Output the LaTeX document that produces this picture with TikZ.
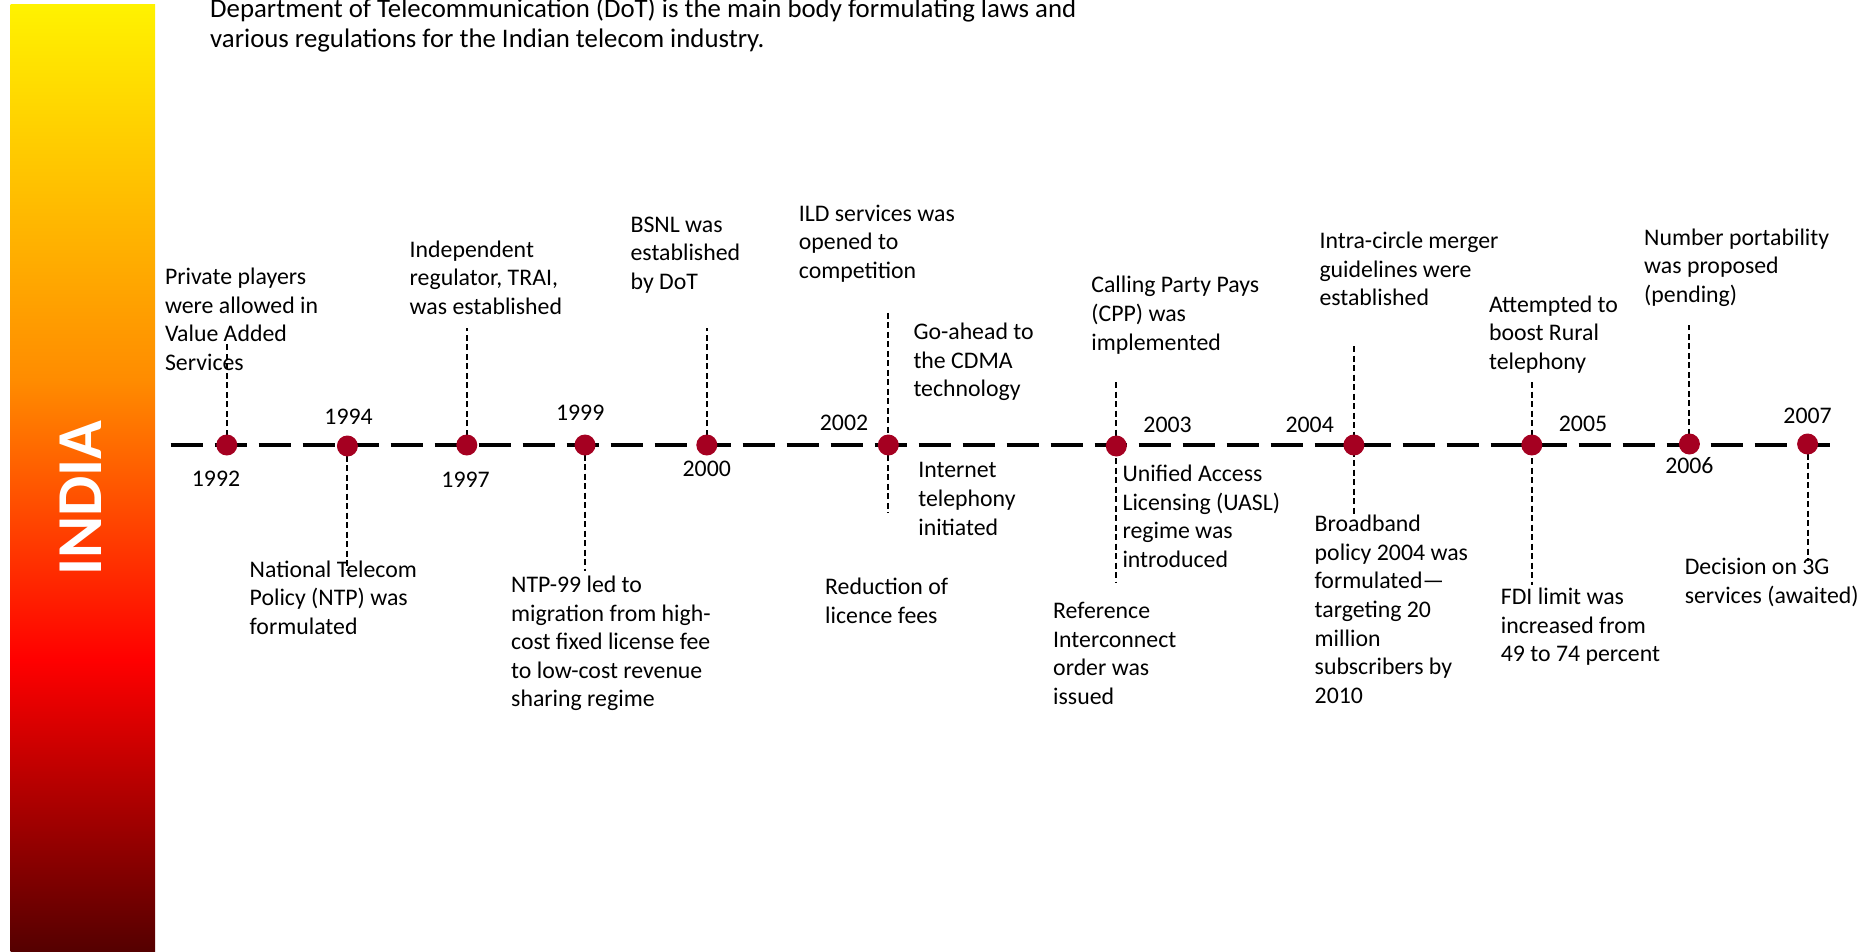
\documentclass[tikz,border=0pt]{standalone}
\usepackage{fontspec}
\setmainfont{Carlito}
\definecolor{barY}{HTML}{FFF200}
\definecolor{barO}{HTML}{FF8C00}
\definecolor{barR}{HTML}{FF0000}
\definecolor{barD}{HTML}{550000}
\definecolor{dotred}{HTML}{A50021}
% vertical colour ramp of the side band (path maps to 25bp..75bp)
\pgfdeclareverticalshading{indiabar}{100bp}{color(0bp)=(barD); color(25bp)=(barD); color(40.4bp)=(barR); color(55.2bp)=(barO); color(75bp)=(barY); color(100bp)=(barY)}
\begin{document}
\begin{tikzpicture}[x=1pt,y=1pt,
  evt/.style={anchor=north west,inner sep=0pt,align=left,
    font=\fontsize{23.8}{28.6}\selectfont,execute at begin node=\strut},
  yr/.style={inner sep=0pt,font=\fontsize{23.8}{28.6}\selectfont},
  dot/.style={circle,fill=dotred,inner sep=0pt,minimum size=21pt},
  lead/.style={line width=2pt,dash pattern=on 6pt off 3.5pt},
  axisline/.style={line width=4.6pt,dash pattern=on 32pt off 12pt}]
\useasboundingbox (0,0) rectangle (1872,-951);

% side band
\shade[shading=indiabar] (10.7,-4.8) rectangle (155.2,-951);
\node[rotate=90,text=white,inner sep=0pt,font=\fontsize{64}{72}\selectfont\bfseries] (india) at (81,-498) {INDIA};

% heading
\node[evt,font=\fontsize{26.8}{30}\selectfont] (head) at (210,2.5) {Department of Telecommunication (DoT) is the main body formulating laws and\\various regulations for the Indian telecom industry.};

% timeline positions
\coordinate (axL) at (170.7,-445);
\coordinate (axR) at (1830.3,-445);
\coordinate (p1992) at (226.8,-445);
\coordinate (p1994) at (347.4,-446);
\coordinate (p1997) at (466.8,-445);
\coordinate (p1999) at (585.0,-445);
\coordinate (p2000) at (706.8,-445);
\coordinate (p2002) at (888.3,-445);
\coordinate (p2003) at (1116.3,-446);
\coordinate (p2004) at (1353.9,-445);
\coordinate (p2005) at (1531.8,-445);
\coordinate (p2006) at (1689.4,-444);
\coordinate (p2007) at (1807.6,-444);

% ends of the leader lines
\coordinate (u1992) at (226.8,-342.6);
\coordinate (d1994) at (347.4,-570.7);
\coordinate (u1997) at (466.8,-328.3);
\coordinate (d1999) at (585.0,-570.7);
\coordinate (u2000) at (706.8,-328.3);
\coordinate (u2002) at (888.3,-312.8);
\coordinate (d2002) at (888.3,-513.4);
\coordinate (u2003) at (1116.3,-382);
\coordinate (d2003) at (1116.3,-582.6);
\coordinate (u2004) at (1353.9,-346);
\coordinate (d2004) at (1353.9,-515.8);
\coordinate (u2005) at (1531.8,-382);
\coordinate (d2005) at (1531.8,-585);
\coordinate (u2006) at (1689.4,-324.7);
\coordinate (d2007) at (1807.6,-561);

% axis
\draw[axisline] (axL) -- (axR);

% leaders
\draw[lead] (p1992) -- (u1992);
\draw[lead] (p1994) -- (d1994);
\draw[lead] (p1997) -- (u1997);
\draw[lead] (p1999) -- (d1999);
\draw[lead] (p2000) -- (u2000);
\draw[lead] (u2002) -- (d2002);
\draw[lead] (u2003) -- (d2003);
\draw[lead] (u2004) -- (d2004);
\draw[lead] (u2005) -- (d2005);
\draw[lead] (p2006) -- (u2006);
\draw[lead] (p2007) -- (d2007);

% milestones
\foreach \y in {1992,1994,1997,1999,2000,2002,2003,2004,2005,2006,2007}
  \node[dot] (m\y) at (p\y) {};

% year labels
\node[yr] (y1992) at (216,-478.8) {1992};
\node[yr] (y1994) at (348.6,-416.7) {1994};
\node[yr] (y1997) at (465.6,-480) {1997};
\node[yr] (y1999) at (580.2,-413) {1999};
\node[yr] (y2000) at (706.8,-469.2) {2000};
\node[yr] (y2002) at (844,-422.6) {2002};
\node[yr] (y2003) at (1167.6,-425) {2003};
\node[yr] (y2004) at (1309.7,-425) {2004};
\node[yr] (y2005) at (1583,-423.8) {2005};
\node[yr] (y2006) at (1689.4,-465.6) {2006};
\node[yr] (y2007) at (1807.6,-415.5) {2007};

% events above the axis
\node[evt] (priv) at (164.8,-267.8) {Private players\\were allowed in\\Value Added\\Services};
\node[evt] (indep) at (409.5,-240.3) {Independent\\regulator, TRAI,\\was established};
\node[evt] (bsnl) at (630.4,-216.5) {BSNL was\\established\\by DoT};
\node[evt] (ild) at (798.7,-204.5) {ILD services was\\opened to\\competition};
\node[evt] (cdma) at (913.3,-322.7) {Go-ahead to\\the CDMA\\technology};
\node[evt] (cpp) at (1091.2,-276.2) {Calling Party Pays\\(CPP) was\\implemented};
\node[evt] (intra) at (1319.3,-232) {Intra-circle merger\\guidelines were\\established};
\node[evt] (rural) at (1488.8,-295.3) {Attempted to\\boost Rural\\telephony};
\node[evt] (mnp) at (1644,-228.4) {Number portability\\was proposed\\(pending)};

% events below the axis
\node[evt] (ntp) at (249.5,-560.3) {National Telecom\\Policy (NTP) was\\formulated};
\node[evt] (ntp99) at (511,-575.8) {NTP-99 led to\\migration from high-\\cost fixed license fee\\to low-cost revenue\\sharing regime};
\node[evt] (inet) at (918.1,-462.4) {Internet\\telephony\\initiated};
\node[evt] (fees) at (825,-578.2) {Reduction of\\licence fees};
\node[evt] (uasl) at (1122.3,-464.8) {Unified Access\\Licensing (UASL)\\regime was\\introduced};
\node[evt] (rio) at (1053,-602) {Reference\\Interconnect\\order was\\issued};
\node[evt] (bband) at (1314.5,-515) {Broadband\\policy 2004 was\\formulated—\\targeting 20\\million\\subscribers by\\2010};
\node[evt] (fdi) at (1500.7,-587.8) {FDI limit was\\increased from\\49 to 74 percent};
\node[evt] (g3) at (1684.6,-558) {Decision on 3G\\services (awaited)};
\end{tikzpicture}
\end{document}
